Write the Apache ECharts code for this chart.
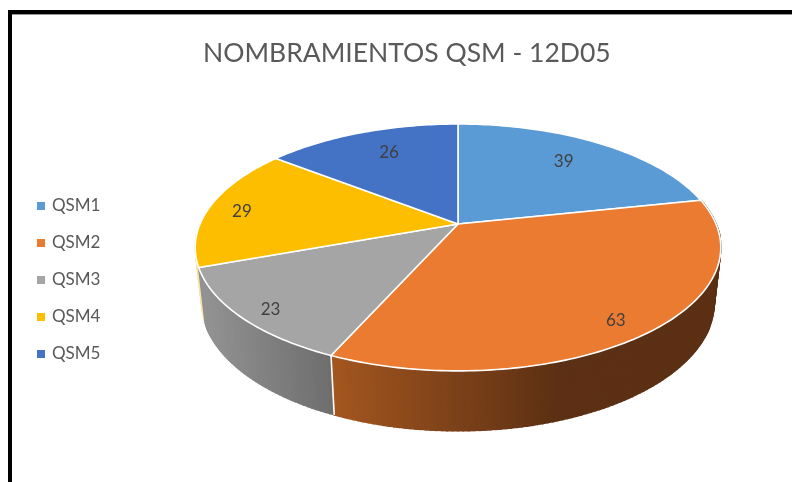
<!DOCTYPE html>
<html>
<head>
<meta charset="utf-8">
<style>
html, body { margin: 0; padding: 0; background: #fff; }
#main { width: 792px; height: 482px; }
</style>
<script src="https://cdn.jsdelivr.net/npm/echarts@6/dist/echarts.min.js"></script>
</head>
<body>
<div id="main"></div>
<script>
const categories = ['QSM1', 'QSM2', 'QSM3', 'QSM4', 'QSM5'];
const values = [39, 63, 23, 29, 26];
const colors = ['#5B9BD5', '#EB7B30', '#A5A5A5', '#FDBE00', '#4472C4'];
const titleText = 'NOMBRAMIENTOS QSM - 12D05';

// perspective of the disc, fitted on the picture
const CX = 458, CY = 224, A = 258, B = 119, K = 0.19;
const FONT = 'Lato';

// where the number sits in its slice (fraction of radius, small nudge down)
const labelR = [0.72, 0.85, 0.88, 0.87, 0.68];
const labelDy = [-2, 7, 5, 3, -6];

// wall shading left to right, null = wall not visible
const wallShade = [
    null,
    { x0: 335, x1: 560, c0: [163, 86, 31], c1: [92, 48, 20] },
    { x0: 205, x1: 332, c0: [146, 146, 146], c1: [110, 110, 110] },
    { x0: 195, x1: 205, c0: [247, 228, 170], c1: [247, 228, 170] },
    null
];

const total = values.reduce((a, b) => a + b, 0);
const starts = [];
values.reduce((acc, v, i) => { starts[i] = acc; return acc + v; }, 0);

function project(deg, f)
{
    const t = deg * Math.PI / 180;
    const x = Math.sin(t) * f, y = -Math.cos(t) * f;
    const w = 1 - K * y;
    return [CX + A * x / w, CY + B * y / w];
}

function lower(p)
{
    return [CX + 0.975 * (p[0] - CX), 1.038 * p[1] + 45.8];
}

function sliceAngles(i)
{
    return [starts[i] / total * 360, (starts[i] + values[i]) / total * 360];
}

function renderTop(params, api)
{
    const i = api.value(0);
    const [a0, a1] = sliceAngles(i);
    const pts = [project(0, 0)];
    const steps = Math.ceil(a1 - a0);
    for (let s = 0; s <= steps; s++)
        pts.push(project(a0 + (a1 - a0) * s / steps, 1));
    const mid = project((a0 + a1) / 2, labelR[i]);
    return {
        type: 'group',
        children: [
            {
                type: 'polygon',
                shape: { points: pts },
                style: { fill: colors[i], stroke: '#fff', lineWidth: 1.6, lineJoin: 'round' }
            },
            {
                type: 'text',
                z2: 5,
                style: {
                    text: String(values[i]),
                    x: mid[0],
                    y: mid[1] + labelDy[i],
                    align: 'center',
                    verticalAlign: 'middle',
                    fill: '#404040',
                    font: '17px ' + FONT
                }
            }
        ]
    };
}

function renderWall(params, api)
{
    const i = api.value(0);
    const shade = wallShade[i];
    const children = [];
    if (!shade)
        return { type: 'group', children: children };
    let [a0, a1] = sliceAngles(i);
    if (i === 3) a1 = a0 + 14;  // only a sliver of this one shows
    const steps = Math.ceil(a1 - a0);
    for (let s = 0; s < steps; s++)
    {
        const p0 = project(a0 + (a1 - a0) * s / steps, 1);
        const p1 = project(a0 + (a1 - a0) * (s + 1) / steps, 1);
        const q0 = lower(p0), q1 = lower(p1);
        const u = Math.min(1, Math.max(0, (p0[0] - shade.x0) / (shade.x1 - shade.x0)));
        const c = shade.c0.map((v, k) => Math.round(v + (shade.c1[k] - v) * u));
        const col = 'rgb(' + c.join(',') + ')';
        children.push({
            type: 'polygon',
            z2: 4 - i,
            shape: { points: [p0, p1, q1, q0] },
            style: { fill: col, stroke: col, lineWidth: 1.5 }
        });
    }
    if (i === 1)
    {
        const p = project(a1, 1);
        children.push({
            type: 'line',
            z2: 10,
            shape: { x1: p[0], y1: p[1], x2: lower(p)[0], y2: lower(p)[1] },
            style: { stroke: '#fff', lineWidth: 1.6 }
        });
    }
    return { type: 'group', children: children };
}

const series = [{
    type: 'custom',
    name: 'walls',
    coordinateSystem: 'none',
    silent: true,
    z: 1,
    animation: false,
    data: [[3], [2], [1]],
    renderItem: renderWall
}];
categories.forEach((name, i) => {
    series.push({
        type: 'custom',
        name: name,
        coordinateSystem: 'none',
        z: 2,
        animation: false,
        itemStyle: { color: colors[i] },
        data: [[i]],
        renderItem: renderTop
    });
});

const myChart = echarts.init(document.getElementById('main'), null, { renderer: 'canvas' });
myChart.setOption({
    backgroundColor: '#fff',
    animation: false,
    title: {
        text: titleText,
        left: 198,
        top: 35,
        textStyle: { fontFamily: FONT, fontSize: 26.5, fontWeight: 'normal', color: '#595959' }
    },
    legend: {
        data: categories,
        orient: 'vertical',
        left: 32,
        top: 192,
        icon: 'rect',
        itemWidth: 8,
        itemHeight: 8,
        itemGap: 19,
        textStyle: { fontFamily: FONT, fontSize: 17, color: '#595959', height: 18, lineHeight: 18, padding: [0, 0, 0, 2] }
    },
    graphic: [
        { type: 'rect', shape: { x: 8, y: 10, width: 784, height: 4 }, style: { fill: '#000' } },
        { type: 'rect', shape: { x: 12, y: 14, width: 780, height: 1 }, style: { fill: '#999' } },
        { type: 'rect', shape: { x: 8, y: 10, width: 4, height: 472 }, style: { fill: '#000' } }
    ],
    series: series
});
</script>
</body>
</html>
